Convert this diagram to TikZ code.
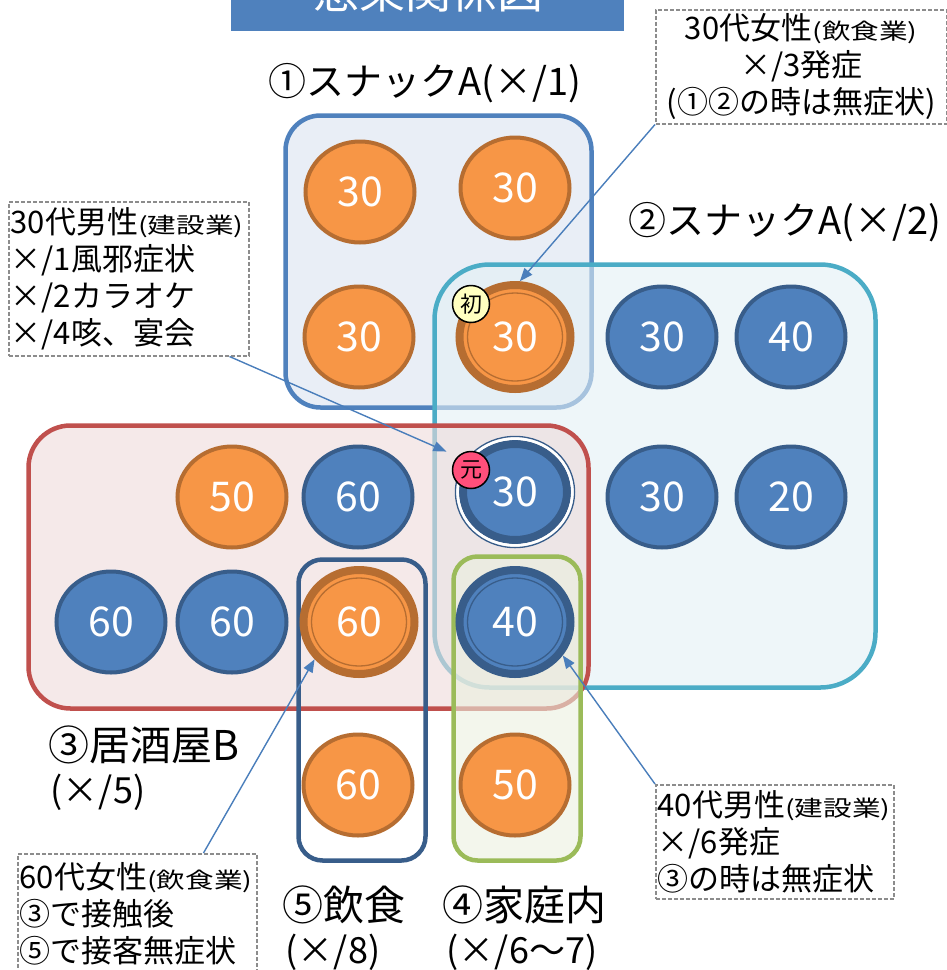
\documentclass[tikz,border=0pt]{standalone}
\usepackage{fontspec}
\setmainfont{Noto Sans CJK JP}
\newfontfamily\jpwide[FakeStretch=1.3]{Noto Sans CJK JP}
\usepackage{xcolor}
\usepackage{tikz}
\usetikzlibrary{shapes.geometric}
\usetikzlibrary{arrows.meta}
\tikzset{>={Triangle[length=13pt,width=10pt]}}

\definecolor{OrangeFill}{HTML}{F79646}
\definecolor{OrangeLine}{HTML}{B66D31}
\definecolor{BlueFill}{HTML}{4F81BD}
\definecolor{BlueLine}{HTML}{385D8A}
\definecolor{TealLine}{HTML}{4BACC6}
\definecolor{RedLine}{HTML}{C0504D}
\definecolor{GreenLine}{HTML}{9BBB59}
\definecolor{NoteLine}{HTML}{8C8C8C}
\definecolor{ArrowBlue}{HTML}{4A7EBB}
\definecolor{FirstBadge}{HTML}{FFFFC0}
\definecolor{OriginBadge}{HTML}{FF4F7B}

\newcommand{\subnote}[1]{{\jpwide\fontsize{22}{37}\selectfont (#1)}}

\begin{document}
\begin{tikzpicture}[x=1pt, y=-1pt, orangedot/.style={ellipse, fill=OrangeFill, draw=OrangeLine, line width=4pt, minimum width=109pt, minimum height=101pt, inner sep=0pt, text=white, font=\fontsize{41}{41}\selectfont}, bluedot/.style={orangedot, fill=BlueFill, draw=BlueLine}, keydot/.style={line width=8pt, minimum width=111pt, minimum height=104pt}, innerring/.style={line width=1.3pt}, markbadge/.style={circle, draw=black, line width=1.5pt, minimum size=37pt, inner sep=0pt, font=\fontsize{22}{22}\selectfont}, grouprect/.style={line width=4.5pt, fill opacity=0.6}, notebox/.style={draw=NoteLine, line width=1.5pt, dash pattern=on 4pt off 2pt, inner sep=2pt, font=\fontsize{31}{37}\selectfont}, grouplabel/.style={font=\fontsize{41}{44}\selectfont}, groupcount/.style={font=\fontsize{36}{40}\selectfont}, link/.style={->, draw=ArrowBlue, fill=ArrowBlue, line width=1.4pt}]

    \useasboundingbox (0,0) rectangle (947,970);
    \clip (0,0) rectangle (947,970);

    %Title
    \node[fill=BlueFill, minimum width=393pt, minimum height=60pt, anchor=south west](titlebar) at (231,31){};
    \node[text=white, font=\fontsize{46}{46}\selectfont, anchor=base](title) at (428,8){感染関係図};

    %Groups
    \draw[grouprect, draw=BlueFill, fill={rgb,255:red,218;green,227;blue,240}, rounded corners=35pt] (285.5,115.5) rectangle (591.5,407.5);
    \draw[grouprect, draw=TealLine, fill={rgb,255:red,227;green,240;blue,245}, rounded corners=55pt] (434.5,264.5) rectangle (875.5,687.5);
    \draw[grouprect, draw=RedLine, fill={rgb,255:red,238;green,218;blue,218}, rounded corners=42pt] (28.5,425.5) rectangle (588.5,708.5);
    \draw[grouprect, draw=BlueLine, rounded corners=24pt] (298.5,559.5) rectangle (425.5,860.5);
    \draw[grouprect, draw=GreenLine, fill={rgb,255:red,235;green,240;blue,223}, rounded corners=24pt] (453.5,556.5) rectangle (580.5,860.5);

    %Nodes
    \node[orangedot](o30a) at (360,192){30};
    \node[orangedot](o30b) at (515,188){30};
    \node[orangedot](o30c) at (359,337){30};
    \node[orangedot, keydot](first) at (515,337){30};
    \node[bluedot](b30a) at (662,337){30};
    \node[bluedot](b40a) at (791,337){40};

    \node[orangedot](o50a) at (232,497){50};
    \node[bluedot](b60a) at (358,497){60};
    \node[bluedot, keydot, minimum width=104pt, minimum height=96pt](origin) at (515,492){30};
    \node[bluedot](b30b) at (662,497){30};
    \node[bluedot](b20) at (791,497){20};

    \node[bluedot](b60b) at (111,622){60};
    \node[bluedot](b60c) at (232,622){60};
    \node[orangedot, keydot](o60key) at (359,622){60};
    \node[bluedot, keydot](b40key) at (515,622){40};

    \node[orangedot](o60b) at (358,785){60};
    \node[orangedot](o50b) at (515,785){50};

    %Rings
    \draw[innerring, OrangeLine] (first.center) ellipse [x radius=47.5pt, y radius=44pt];
    \draw[innerring, OrangeLine] (o60key.center) ellipse [x radius=47.5pt, y radius=44pt];
    \draw[innerring, BlueLine] (b40key.center) ellipse [x radius=47.5pt, y radius=44pt];
    \draw[white, line width=3pt] (origin.center) ellipse [x radius=57.6pt, y radius=53.6pt];
    \draw[innerring, BlueLine] (origin.center) ellipse [x radius=59.6pt, y radius=55.6pt];

    %Badges
    \node[markbadge, fill=FirstBadge](firstmark) at (471,304){初};
    \node[markbadge, fill=OriginBadge](originmark) at (471,470){元};

    %Notes
    \node[notebox, anchor=north west, text width=287pt, minimum height=114pt, align=center](noteA) at (655,9){30代女性\subnote{飲食業}\\×/3発症\\(①②の時は無症状)};
    \node[notebox, anchor=north west, text width=236pt, minimum height=154pt, align=left](noteB) at (8,201){30代男性\subnote{建設業}\\×/1風邪症状\\×/2カラオケ\\×/4咳、宴会};
    \node[notebox, anchor=north west, text width=234pt, minimum height=114pt, align=left](noteC) at (655,784){40代男性\subnote{建設業}\\×/6発症\\③の時は無症状};
    \node[notebox, anchor=north west, text width=235pt, minimum height=120pt, align=left](noteD) at (17,853){60代女性\subnote{飲食業}\\③で接触後\\⑤で接客無症状};

    %Labels
    \node[grouplabel, font=\fontsize{38}{40}\selectfont](snack1) at (425,83){①スナックA(×/1)};
    \node[grouplabel, font=\fontsize{38}{40}\selectfont](snack2) at (785,222){②スナックA(×/2)};
    \node[grouplabel](izakaya) at (144,745){③居酒屋B};
    \node[groupcount](izakaya_n) at (98,792){(×/5)};
    \node[grouplabel](eating) at (344,905){⑤飲食};
    \node[groupcount](eating_n) at (333,952){(×/8)};
    \node[grouplabel](home) at (524,905){④家庭内};
    \node[groupcount](home_n) at (522,952){(×/6〜7)};

    %Lines
    \draw[link] (noteA.south west) -- (first.85);
    \draw[link, shorten >=12pt] ([xshift=-20pt]noteB.south east) -- (originmark.135);
    \draw[link] (noteC.north west) -- (b40key.-35);
    \draw[link] ([xshift=-54pt]noteD.north east) -- (o60key.220);

\end{tikzpicture}
\end{document}
